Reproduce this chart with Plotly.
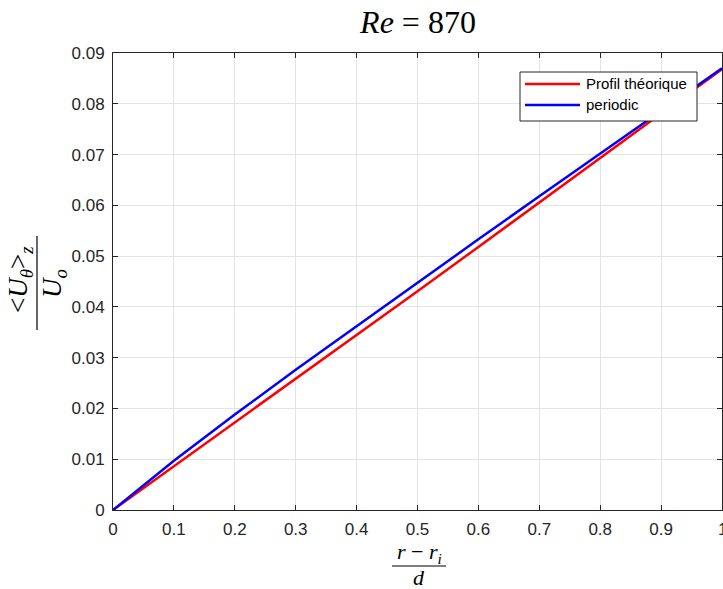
import plotly.graph_objects as go

# Normalised radial position (r - r_i)/d
r_norm = [0.0, 0.1, 0.2, 0.3, 0.4, 0.5, 0.6, 0.7, 0.8, 0.9, 1.0]
# Azimuthal mean velocity <U_theta>_z / U_o
u_theory = [0.0, 0.0086, 0.0172, 0.0258, 0.0344, 0.0431, 0.0518, 0.0606, 0.0694, 0.0781, 0.0868]
u_periodic = [0.0, 0.0097, 0.0188, 0.0276, 0.0362, 0.0448, 0.0533, 0.0618, 0.0702, 0.0786, 0.0870]

series_names = ["Profil théorique", "periodic"]
series_colors = ["#ff0000", "#0000ff"]

x_ticks = [0, 0.1, 0.2, 0.3, 0.4, 0.5, 0.6, 0.7, 0.8, 0.9]
x_ticklabels = ["0", "0.1", "0.2", "0.3", "0.4", "0.5", "0.6", "0.7", "0.8", "0.9"]
x_last_tick, x_last_label = 1, "1"
y_ticks = [0, 0.01, 0.02, 0.03, 0.04, 0.05, 0.06, 0.07, 0.08, 0.09]
y_ticklabels = ["0", "0.01", "0.02", "0.03", "0.04", "0.05", "0.06", "0.07", "0.08", "0.09"]

W, H = 723, 589
L, R, T, B = 113, 1, 53, 79
pw, ph = W - L - R, H - T - B

def px_x(px):
    return (px - L) / pw

def px_y(py):
    return (H - B - py) / ph

axis_col = "#262626"
serif = "Liberation Serif, Times New Roman, serif"
sans = "Liberation Sans, Arial, sans-serif"
tick_font = dict(family=sans, size=17, color=axis_col)

fig = go.Figure()
for yv, name, col in zip([u_theory, u_periodic], series_names, series_colors):
    fig.add_trace(go.Scatter(x=r_norm, y=yv, mode="lines", name=name,
                             line=dict(color=col, width=2.5), showlegend=False))

axis_common = dict(showline=True, linecolor=axis_col, linewidth=1, mirror="ticks",
                   ticks="inside", ticklen=5, tickcolor=axis_col,
                   showgrid=True, gridcolor="#e3e3e3", gridwidth=1, zeroline=False,
                   tickfont=tick_font)

fig.update_layout(
    width=W, height=H,
    margin=dict(l=L, r=R, t=T, b=B),
    paper_bgcolor="white", plot_bgcolor="white",
    xaxis=dict(range=[0, 1], tickvals=x_ticks + [x_last_tick],
               ticktext=x_ticklabels + [""], ticklabelstandoff=4, **axis_common),
    yaxis=dict(range=[0, 0.09], tickvals=y_ticks, ticktext=y_ticklabels,
               ticklabelstandoff=4, **axis_common),
    title=dict(text="<i>Re</i> = 870", x=418 / W, xanchor="center",
               y=1 - 22 / H, yanchor="middle",
               font=dict(family=serif, size=32, color="black")),
    showlegend=False,
)

math_font = dict(family=serif, size=22, color="black")
ylab_font = dict(family=serif, size=27, color="black")
annotations = [
    # last x tick label, partly beyond the right edge
    dict(text=x_last_label, x=x_last_tick, y=px_y(529), xref="x", yref="paper",
         showarrow=False, font=tick_font, xanchor="center", yanchor="middle"),
    # x-axis label: (r - r_i) / d
    dict(text="<i>r</i> − <i>r<sub>i</sub></i>", x=px_x(419), y=px_y(553),
         xref="paper", yref="paper", showarrow=False, font=math_font,
         xanchor="center", yanchor="middle"),
    dict(text="<i>d</i>", x=px_x(419), y=px_y(577),
         xref="paper", yref="paper", showarrow=False, font=math_font,
         xanchor="center", yanchor="middle"),
    # y-axis label: <U_theta>_z / U_o
    dict(text="&lt;<i>U<sub>θ</sub></i>&gt;<sub><i>z</i></sub>", x=px_x(20), y=px_y(280),
         xref="paper", yref="paper", showarrow=False, font=ylab_font, textangle=-90,
         xanchor="center", yanchor="middle"),
    dict(text="<i>U<sub>o</sub></i>", x=px_x(54), y=px_y(283),
         xref="paper", yref="paper", showarrow=False, font=ylab_font, textangle=-90,
         xanchor="center", yanchor="middle"),
]

shapes = [
    dict(type="line", xref="paper", yref="paper", x0=px_x(392), x1=px_x(446),
         y0=px_y(566), y1=px_y(566), line=dict(color="black", width=1.2)),
    dict(type="line", xref="paper", yref="paper", x0=px_x(37), x1=px_x(37),
         y0=px_y(236), y1=px_y(330), line=dict(color="black", width=1.2)),
    # legend box
    dict(type="rect", xref="paper", yref="paper", x0=px_x(520), x1=px_x(697),
         y0=px_y(121), y1=px_y(72), fillcolor="white",
         line=dict(color=axis_col, width=1), layer="above"),
]

# legend entries
for i, (name, col) in enumerate(zip(series_names, series_colors)):
    yy = 84 + 21 * i
    shapes.append(dict(type="line", xref="paper", yref="paper", x0=px_x(525), x1=px_x(580),
                       y0=px_y(yy), y1=px_y(yy), line=dict(color=col, width=2.5),
                       layer="above"))
    annotations.append(dict(text=name, x=px_x(584), y=px_y(yy), xref="paper", yref="paper",
                            showarrow=False, xanchor="left", yanchor="middle",
                            font=dict(family=sans, size=15, color="black")))

fig.update_layout(annotations=annotations, shapes=shapes)

fig.write_html("out.html")
